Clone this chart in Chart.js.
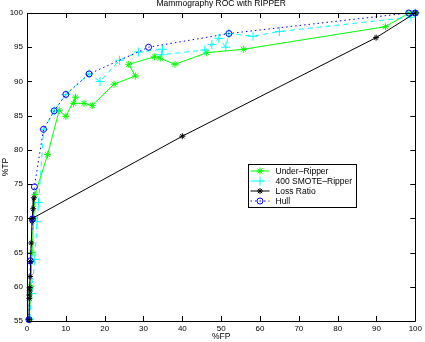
<!DOCTYPE html>
<html>
<head>
<meta charset="utf-8">
<script src="https://cdn.jsdelivr.net/npm/chart.js@4.4.0/dist/chart.umd.min.js"></script>
<style>
  html, body { margin: 0; padding: 0; background: #fff; }
  #wrap { width: 425px; height: 342px; position: relative; }
</style>
</head>
<body>
<div id="wrap"><canvas id="chart"></canvas></div>
<script>
// values (x = %FP, y = %TP)
const underRipperFP = [0.6, 1.0, 1.3, 1.7, 2.1, 5.3, 8.3, 10.0, 12.5, 12.0, 14.7, 16.8, 22.4, 27.9, 26.2, 32.8, 34.3, 38.1, 46.3, 55.7, 92.3, 98.4, 100];
const underRipperTP = [55.2, 60.0, 65.0, 70.0, 73.5, 79.3, 85.8, 84.9, 87.7, 86.8, 86.8, 86.5, 89.6, 90.8, 92.5, 93.6, 93.4, 92.5, 94.2, 94.7, 98.0, 100, 100];

const smoteFP = [0.7, 1.2, 2.0, 2.6, 3.0, 4.3, 7.0, 10.0, 16.0, 18.8, 23.8, 28.7, 34.9, 34.6, 45.8, 47.6, 49.4, 51.2, 52.0, 58.2, 65.0, 98.9, 100];
const smoteTP = [55.3, 59.0, 64.0, 69.5, 72.3, 83.0, 85.7, 88.1, 91.1, 90.0, 93.1, 94.3, 94.7, 93.9, 94.6, 95.4, 96.3, 95.0, 97.0, 96.6, 97.3, 99.4, 100];

const lossRatioFP = [0.5, 0.6, 0.6, 0.7, 0.7, 0.8, 0.9, 1.1, 1.3, 1.8, 1.6, 1.4, 40.0, 89.9, 100];
const lossRatioTP = [55.2, 58.3, 58.8, 59.4, 59.9, 61.5, 63.7, 66.4, 69.6, 73.0, 71.4, 70.0, 82.0, 96.4, 100];

const hullFP = [0.5, 0.85, 1.4, 1.9, 4.25, 7.0, 10.0, 16.0, 31.3, 52.0, 98.3, 100];
const hullTP = [55.2, 63.8, 69.9, 74.6, 83.0, 85.7, 88.1, 91.1, 95.0, 97.0, 100, 100];

const xTicks = [0, 10, 20, 30, 40, 50, 60, 70, 80, 90, 100];
const yTicks = [55, 60, 65, 70, 75, 80, 85, 90, 95, 100];

function pts(xs, ys) {
    return xs.map((x, i) => ({ x: x, y: ys[i] }));
}

const FONT = 'Liberation Sans, Arial, sans-serif';

// box, inside ticks, title, axis names and the legend box
const framePlugin = {
    id: 'frame',
    afterDraw(chart) {
        const ctx = chart.ctx;
        const a = chart.chartArea;
        const xs = chart.scales.x, ys = chart.scales.y;
        ctx.save();
        ctx.strokeStyle = '#000';
        ctx.lineWidth = 1;
        ctx.beginPath();
        ctx.rect(Math.round(a.left) + 0.5, Math.round(a.top) + 0.5,
                 Math.round(a.right - a.left), Math.round(a.bottom - a.top));
        ctx.stroke();
        ctx.beginPath();
        xTicks.forEach(v => {
            const px = Math.round(xs.getPixelForValue(v)) + 0.5;
            ctx.moveTo(px, a.bottom); ctx.lineTo(px, a.bottom - 5);
            ctx.moveTo(px, a.top); ctx.lineTo(px, a.top + 5);
        });
        yTicks.forEach(v => {
            const py = Math.round(ys.getPixelForValue(v)) + 0.5;
            ctx.moveTo(a.left, py); ctx.lineTo(a.left + 5, py);
            ctx.moveTo(a.right, py); ctx.lineTo(a.right - 5, py);
        });
        ctx.stroke();

        ctx.fillStyle = '#000';
        ctx.font = '8.5px ' + FONT;
        ctx.textAlign = 'center';
        ctx.textBaseline = 'middle';
        ctx.fillText('Mammography ROC with RIPPER', (a.left + a.right) / 2, 4);
        ctx.fillText('%FP', (a.left + a.right) / 2, 337);
        ctx.save();
        ctx.translate(6, (a.top + a.bottom) / 2);
        ctx.rotate(-Math.PI / 2);
        ctx.fillText('%TP', 0, 0);
        ctx.restore();

        // legend
        const lx = 248.5, ly = 164.5, lw = 108, lh = 43;
        ctx.fillStyle = '#fff';
        ctx.fillRect(lx, ly, lw, lh);
        ctx.strokeStyle = '#000';
        ctx.setLineDash([]);
        ctx.strokeRect(lx, ly, lw, lh);
        chart.data.datasets.forEach((ds, i) => {
            const cy = ly + 6.5 + i * 10;
            ctx.save();
            ctx.strokeStyle = ds.borderColor;
            ctx.lineWidth = 1;
            ctx.setLineDash(ds.borderDash || []);
            ctx.beginPath();
            ctx.moveTo(lx + 2, cy); ctx.lineTo(lx + 21, cy);
            ctx.stroke();
            ctx.setLineDash([]);
            ctx.fillStyle = 'rgba(0,0,0,0)';
            Chart.helpers.drawPoint(ctx, {
                pointStyle: ds.pointStyle, radius: ds.pointRadius,
                rotation: 0, borderWidth: 1
            }, lx + 11.5, cy);
            ctx.restore();
            ctx.fillStyle = '#000';
            ctx.textAlign = 'left';
            ctx.fillText(ds.label, lx + 27, cy + 0.5);
        });
        ctx.restore();
    }
};

new Chart(document.getElementById('chart'), {
    type: 'line',
    data: {
        datasets: [
            {
                label: 'Under\u2013Ripper',
                data: pts(underRipperFP, underRipperTP),
                borderColor: '#00ff00', backgroundColor: 'rgba(0,0,0,0)',
                borderWidth: 1, pointStyle: 'star', pointRadius: 3.5,
                pointBorderWidth: 1, order: 3
            },
            {
                label: '400 SMOTE\u2013Ripper',
                data: pts(smoteFP, smoteTP),
                borderColor: '#00ffff', backgroundColor: 'rgba(0,0,0,0)',
                borderWidth: 1, borderDash: [5, 4], pointStyle: 'cross', pointRadius: 4.5,
                pointBorderWidth: 1, order: 2
            },
            {
                label: 'Loss Ratio',
                data: pts(lossRatioFP, lossRatioTP),
                borderColor: '#000000', backgroundColor: 'rgba(0,0,0,0)',
                borderWidth: 1, pointStyle: 'star', pointRadius: 3,
                pointBorderWidth: 1, order: 1
            },
            {
                label: 'Hull',
                data: pts(hullFP, hullTP),
                borderColor: '#0000ff', backgroundColor: 'rgba(0,0,0,0)',
                borderWidth: 1, borderDash: [1.5, 3], pointStyle: 'circle', pointRadius: 3,
                pointBorderWidth: 1, order: 0
            }
        ]
    },
    options: {
        responsive: true,
        maintainAspectRatio: false,
        animation: false,
        devicePixelRatio: 1,
        clip: false,
        layout: { padding: { top: 13, right: 8, left: 0, bottom: 0 } },
        plugins: { legend: { display: false }, tooltip: { enabled: false }, title: { display: false } },
        elements: { line: { tension: 0 } },
        scales: {
            x: {
                type: 'linear', min: 0, max: 100,
                grid: { display: false, drawTicks: false, tickLength: 0 }, border: { display: false },
                afterBuildTicks: s => { s.ticks = xTicks.map(v => ({ value: v })); },
                afterFit: s => { s.height = 21; },
                ticks: { color: '#000', font: { size: 8, family: FONT }, padding: 3, maxRotation: 0 }
            },
            y: {
                type: 'linear', min: 55, max: 100,
                grid: { display: false, drawTicks: false, tickLength: 0 }, border: { display: false },
                afterBuildTicks: s => { s.ticks = yTicks.map(v => ({ value: v })); },
                afterFit: s => { s.width = 27; },
                ticks: { color: '#000', font: { size: 8, family: FONT }, padding: 4 }
            }
        }
    },
    plugins: [framePlugin]
});
</script>
</body>
</html>
